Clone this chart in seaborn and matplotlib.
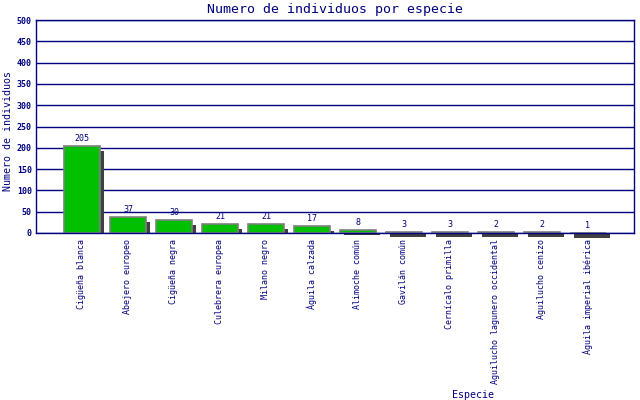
import matplotlib
matplotlib.use("Agg")
import matplotlib.pyplot as plt
import matplotlib.transforms as mtransforms
import seaborn as sns
import pandas as pd

especies = ["Cigüeña blanca", "Abejero europeo", "Cigüeña negra", "Culebrera europea",
            "Milano negro", "Águila calzada", "Alimoche común", "Gavilán común",
            "Cernícalo primilla", "Aguilucho lagunero occidental", "Aguilucho cenizo",
            "Águila imperial ibérica"]
individuos = [205, 37, 30, 21, 21, 17, 8, 3, 3, 2, 2, 1]
y_ticks = list(range(0, 501, 50))

navy = "#000080"
mono = "DejaVu Sans Mono"

df = pd.DataFrame({"Especie": especies, "Individuos": individuos})

sns.set_style("white")
plt.rcParams["font.family"] = [mono, "DejaVu Sans"]

fig = plt.figure(figsize=(6.4, 4), dpi=100)
ax = fig.add_axes([36/640, 1 - 233/400, 598/640, 213/400])
ax.set_ylim(0, 500)
ax.set_xlim(-1.0, 12.0)

# sombra: desplazada 4px a la derecha y 5px hacia abajo, desde la base
sns.barplot(data=df, x="Especie", y="Individuos", color="#404040", width=0.78,
            linewidth=0, saturation=1, ax=ax, zorder=2)
drop = 5 * 500 / 213  # 5 px en unidades de datos
shift = mtransforms.ScaledTranslation(0.04, 0, fig.dpi_scale_trans)
for p in ax.patches:
    p.set_height(p.get_height() - drop)
    p.set_transform(ax.transData + shift)
    p.set_clip_on(False)
n_shadow = len(ax.containers)

sns.barplot(data=df, x="Especie", y="Individuos", color="#00c000", width=0.78,
            edgecolor="#808080", linewidth=1.2, saturation=1, ax=ax, zorder=3)
ax.bar_label(ax.containers[n_shadow], padding=2, fontsize=6, color=navy, family=mono)

ax.set_ylim(0, 500)
ax.set_xlim(-1.0, 12.0)
ax.set_yticks(y_ticks)
for v in y_ticks:
    ax.axhline(v, color=navy, lw=1, zorder=1)
for s in ax.spines.values():
    s.set_color(navy)
    s.set_linewidth(1)
    s.set_zorder(4)

ax.tick_params(axis="y", length=0, pad=3, labelsize=6, labelcolor=navy)
ax.tick_params(axis="x", length=0, pad=4, labelsize=6, labelcolor=navy, rotation=90)
for t in ax.get_yticklabels():
    t.set_fontweight("bold")

ax.set_title("Numero de individuos por especie", fontsize=9.5, color=navy, pad=5)
ax.set_ylabel("Numero de individuos", fontsize=7.2, color=navy)
ax.yaxis.set_label_coords(-0.039, 0.48)
ax.set_xlabel("Especie", fontsize=7.2, color=navy)
ax.xaxis.set_label_coords(0.731, -0.735)

fig.savefig("out.png", dpi=100)
